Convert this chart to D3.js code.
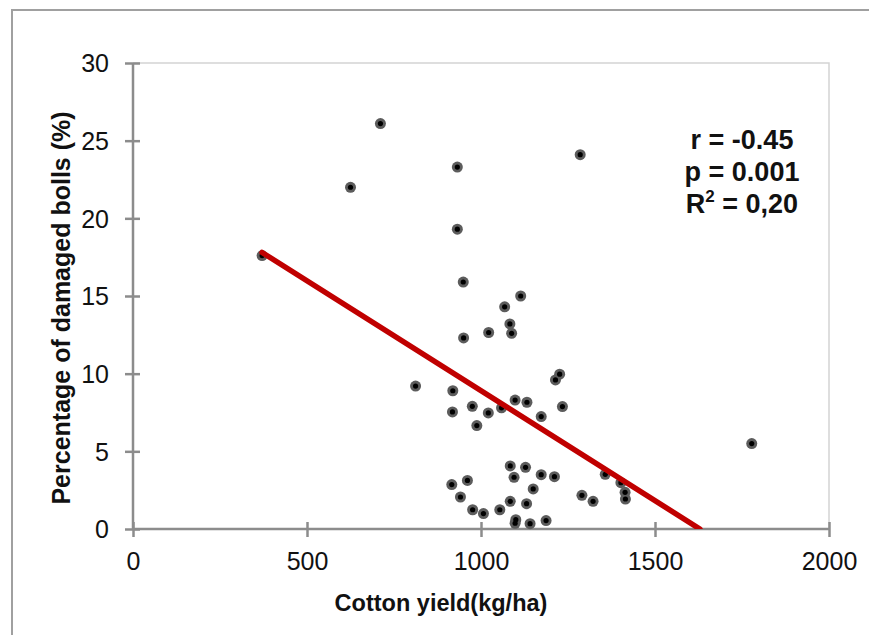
<!DOCTYPE html>
<html>
<head>
<meta charset="utf-8">
<script src="https://cdn.jsdelivr.net/npm/d3@7"></script>
<style>
  html, body { margin: 0; padding: 0; background: #fff; }
  svg { display: block; font-family: "Liberation Sans", Arial, Helvetica, sans-serif; }
</style>
</head>
<body>
<svg id="chart" width="869" height="635"></svg>
<script>
// ---- data ----
const cottonYield = [371, 711, 625, 932, 932, 949, 1285, 1114, 1068, 1083, 1088, 1022, 950,
  812, 919, 1226, 1214, 975, 1098, 1132, 918, 1021, 1059, 1234, 1173, 988,
  1084, 1128, 1095, 1173, 1211, 1357, 1402, 1414, 1415, 916, 961, 941, 1150,
  1290, 1322, 1084, 1131, 976, 1007, 1054, 1100, 1098, 1141, 1187, 1778];
const damagedBolls = [17.6, 26.1, 22.0, 23.3, 19.3, 15.9, 24.1, 15.0, 14.3, 13.2, 12.6, 12.65, 12.3,
  9.2, 8.9, 9.97, 9.6, 7.9, 8.3, 8.16, 7.54, 7.47, 7.8, 7.88, 7.24, 6.66,
  4.06, 3.97, 3.33, 3.5, 3.37, 3.52, 2.98, 2.36, 1.93, 2.86, 3.13, 2.06, 2.58,
  2.17, 1.78, 1.78, 1.63, 1.24, 0.99, 1.24, 0.6, 0.37, 0.34, 0.54, 5.5];
const trendX = [371, 1629];          // extent of the fitted line
const trendIntercept = 23.05;        // y = a + b*x
const trendSlope = -0.01415;
const xTicks = [0, 500, 1000, 1500, 2000];
const yTicks = [0, 5, 10, 15, 20, 25, 30];
const statsLines = ["r = -0.45", "p = 0.001", "R2 = 0,20"];
const xTitle = "Cotton yield(kg/ha)";
const yTitle = "Percentage of damaged bolls (%)";

// ---- layout ----
const svg = d3.select("#chart");
const m = { left: 133, top: 63, right: 829, bottom: 529 };

const x = d3.scaleLinear().domain([0, 2000]).range([m.left, m.right]);
const y = d3.scaleLinear().domain([0, 30]).range([m.bottom, m.top]);

svg.append("defs").append("clipPath").attr("id", "plotclip")
  .append("rect").attr("x", 0).attr("y", 0).attr("width", 869).attr("height", m.bottom);

// outer frame (top and left edges)
svg.append("path")
  .attr("d", `M12,635 L12,10 L869,10`)
  .attr("fill", "none").attr("stroke", "#a0a0a0").attr("stroke-width", 2);

// plot area border (top & right)
svg.append("path")
  .attr("d", `M${m.left},${m.top} L${m.right},${m.top} L${m.right},${m.bottom}`)
  .attr("fill", "none").attr("stroke", "#d4d4d4").attr("stroke-width", 1.5);

// axes
const xAxis = d3.axisBottom(x).tickValues(xTicks).tickSize(0).tickPadding(0).tickFormat(d3.format("d"));
const yAxis = d3.axisLeft(y).tickValues(yTicks).tickSize(0).tickPadding(0).tickFormat(d3.format("d"));

const gx = svg.append("g").attr("transform", `translate(0,${m.bottom})`).call(xAxis);
gx.select(".domain").attr("d", `M${m.left},0H${m.right}`)
  .attr("stroke", "#8c8c8c").attr("stroke-width", 2.5);
gx.selectAll(".tick line").attr("y1", -7).attr("y2", 8).attr("stroke", "#8c8c8c").attr("stroke-width", 2.5);
gx.selectAll(".tick text").attr("y", 41).attr("dy", 0)
  .attr("font-size", 25).attr("fill", "#111").attr("font-family", "Liberation Sans, Arial, sans-serif");

const gy = svg.append("g").attr("transform", `translate(${m.left},0)`).call(yAxis);
gy.select(".domain").attr("d", `M0,${m.bottom}V${m.top}`)
  .attr("stroke", "#8c8c8c").attr("stroke-width", 2.5);
gy.selectAll(".tick line").attr("x1", -8).attr("x2", 7).attr("stroke", "#8c8c8c").attr("stroke-width", 2.5);
gy.selectAll(".tick text").attr("x", -24).attr("dy", "0.35em")
  .attr("font-size", 25).attr("fill", "#111").attr("font-family", "Liberation Sans, Arial, sans-serif");

// points
const pts = svg.append("g");
const data = cottonYield.map((v, i) => [v, damagedBolls[i]]);
pts.selectAll("circle.outer").data(data).enter().append("circle")
  .attr("class", "outer")
  .attr("cx", d => x(d[0])).attr("cy", d => y(d[1])).attr("r", 5.5)
  .attr("fill", "#5c5c5c");
pts.selectAll("circle.inner").data(data).enter().append("circle")
  .attr("class", "inner")
  .attr("cx", d => x(d[0])).attr("cy", d => y(d[1])).attr("r", 2.6)
  .attr("fill", "#000");

// trend line
const trend = trendX.map(v => [v, trendIntercept + trendSlope * v]);
svg.append("path")
  .attr("clip-path", "url(#plotclip)")
  .attr("d", d3.line().x(d => x(d[0])).y(d => y(d[1]))(trend))
  .attr("fill", "none").attr("stroke", "#c00000").attr("stroke-width", 5.5)
  .attr("stroke-linecap", "round");

// stats annotation
const st = svg.append("text").attr("text-anchor", "middle")
  .attr("font-size", 27).attr("font-weight", "bold").attr("fill", "#111");
statsLines.forEach((s, i) => {
  const t = st.append("tspan").attr("x", 742).attr("y", 149 + i * 32);
  if (s.startsWith("R2")) {
    t.text("R");
    t.append("tspan").text("2").attr("font-size", 17).attr("dy", -11);
    t.append("tspan").text(" = 0,20").attr("dy", 11);
  } else {
    t.text(s);
  }
});

// axis titles
svg.append("text").attr("x", 441).attr("y", 611).attr("text-anchor", "middle")
  .attr("font-size", 23.5).attr("font-weight", "bold").attr("fill", "#111").text(xTitle);
svg.append("text").attr("transform", "translate(70,308) rotate(-90)").attr("text-anchor", "middle")
  .attr("font-size", 25).attr("font-weight", "bold").attr("fill", "#111").text(yTitle);
</script>
</body>
</html>
